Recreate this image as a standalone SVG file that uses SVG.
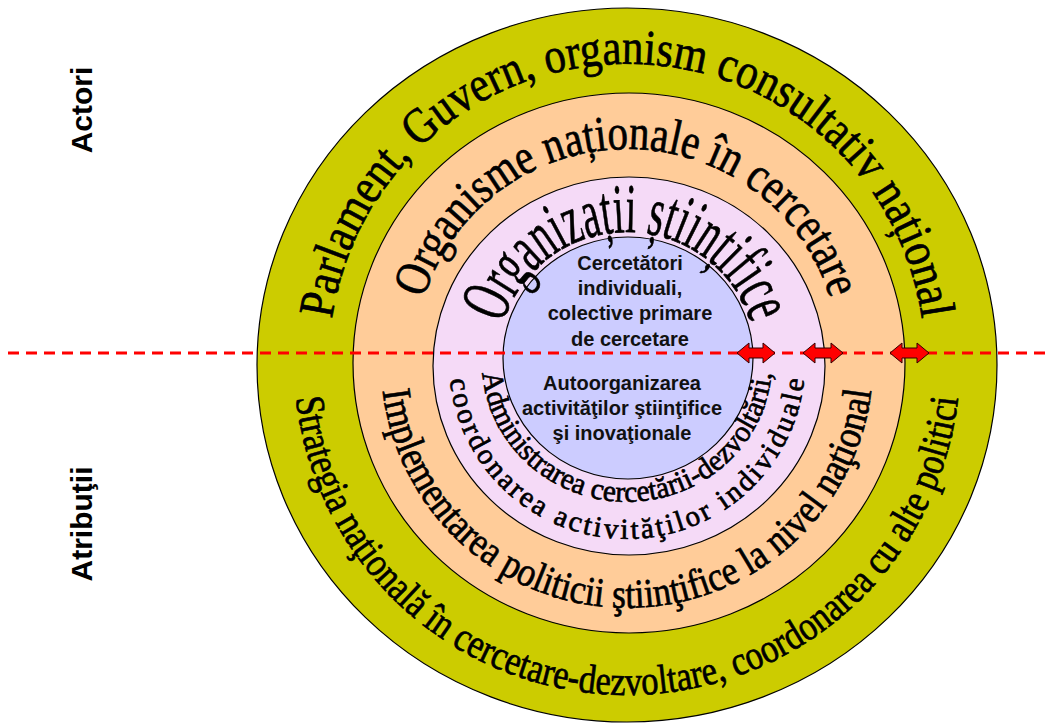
<svg xmlns="http://www.w3.org/2000/svg" xmlns:xlink="http://www.w3.org/1999/xlink" width="1048" height="724" viewBox="0 0 1048 724">
<style>
.ring{stroke:#000;stroke-width:1.2}
.arc{font-family:"Liberation Serif","Times New Roman",serif;fill:#000;stroke:#000;stroke-width:0.7}
.inner{font-family:"Liberation Sans",Arial,sans-serif;font-weight:bold;font-size:20px;fill:#111;text-anchor:middle}
.side{font-family:"Liberation Sans",Arial,sans-serif;font-weight:bold;font-size:30px;fill:#000;text-anchor:middle}
.dash{stroke:#FF0000;stroke-width:3;stroke-dasharray:11 7;fill:none}
.arr{fill:#FF0000;stroke:#300;stroke-width:1}
</style>
<defs>
<path id="pTop1" d="M347,463.9 A298,298 0 1 1 907,463.9"/>
<path id="pTop2" d="M426.8,434.8 A213,213 0 1 1 827.2,434.8"/>
<path id="pTop3" d="M504.8,406.5 A130,130 0 1 1 749.2,406.5"/>
<path id="pBot4" d="M314.1,248.1 A333,333 0 1 0 939.9,248.1"/>
<path id="pBot5" d="M395.8,277.9 A246,246 0 1 0 858.2,277.9"/>
<path id="pBot6a" d="M490.7,314.1 A145,140 0 1 0 763.3,314.1"/>
<path id="pBot6b" d="M459.7,301.5 A178,177 0 1 0 794.3,301.5"/>
</defs>
<rect width="1048" height="724" fill="#fff"/>

<g id="ring-national">
<ellipse class="ring" cx="627" cy="365" rx="370" ry="357" fill="#CCCC00"/>
</g>
<g id="ring-organisme">
<ellipse class="ring" cx="629" cy="363" rx="276" ry="270" fill="#FFCC99"/>
</g>
<g id="ring-organizatii">
<ellipse class="ring" cx="629" cy="366" rx="196" ry="189" fill="#F5DAF7"/>
</g>
<g id="core">
<ellipse class="ring" cx="628" cy="358" rx="125" ry="121" fill="#CCCCFF"/>
</g>

<g id="connectors">
<line class="dash" x1="8" y1="353" x2="1048" y2="353"/>
<polygon class="arr" points="737,353 749,343 749,348 763,348 763,343 775,353 763,363 763,358 749,358 749,363"/>
<polygon class="arr" points="803,353 815,343 815,348 831,348 831,343 843,353 831,363 831,358 815,358 815,363"/>
<polygon class="arr" points="890,353 902,343 902,348 917,348 917,343 929,353 917,363 917,358 902,358 902,363"/>
</g>

<g id="label-national">
<text class="arc" font-size="50"><textPath xlink:href="#pTop1" href="#pTop1" startOffset="50%" text-anchor="middle" textLength="850" lengthAdjust="spacingAndGlyphs">Parlament, Guvern, organism consultativ național</textPath></text>
<text class="arc" font-size="41"><textPath xlink:href="#pBot4" href="#pBot4" startOffset="50%" text-anchor="middle" textLength="974" lengthAdjust="spacingAndGlyphs">Strategia naţională în cercetare-dezvoltare, coordonarea cu alte politici</textPath></text>
</g>
<g id="label-organisme">
<text class="arc" font-size="50"><textPath xlink:href="#pTop2" href="#pTop2" startOffset="50%" text-anchor="middle" textLength="540" lengthAdjust="spacingAndGlyphs">Organisme naționale în cercetare</textPath></text>
<text class="arc" font-size="41"><textPath xlink:href="#pBot5" href="#pBot5" startOffset="50%" text-anchor="middle" textLength="715" lengthAdjust="spacingAndGlyphs">Implementarea politicii ştiinţifice la nivel naţional</textPath></text>
</g>
<g id="label-organizatii">
<text class="arc" font-size="70" stroke-width="0.9"><textPath xlink:href="#pTop3" href="#pTop3" startOffset="50%" text-anchor="middle" textLength="330" lengthAdjust="spacingAndGlyphs">Organizații științifice</textPath></text>
<text class="arc" font-size="30"><textPath xlink:href="#pBot6a" href="#pBot6a" startOffset="50%" text-anchor="middle" textLength="425" lengthAdjust="spacingAndGlyphs">Administrarea cercetării-dezvoltării,</textPath></text>
<text class="arc" font-size="29"><textPath xlink:href="#pBot6b" href="#pBot6b" startOffset="50%" text-anchor="middle" textLength="522" lengthAdjust="spacing">coordonarea activităţilor individuale</textPath></text>
</g>
<g id="label-core">
<text class="inner" x="630" y="270">Cercetători</text>
<text class="inner" x="630" y="295">individuali,</text>
<text class="inner" x="630" y="320">colective primare</text>
<text class="inner" x="630" y="346">de cercetare</text>
<text class="inner" x="622" y="390">Autoorganizarea</text>
<text class="inner" x="622" y="415">activităţilor ştiinţifice</text>
<text class="inner" x="622" y="440">şi inovaţionale</text>
</g>

<g id="side-labels">
<text class="side" transform="translate(92,110) rotate(-90)">Actori</text>
<text class="side" transform="translate(92,524) rotate(-90)">Atribuţii</text>
</g>
</svg>
